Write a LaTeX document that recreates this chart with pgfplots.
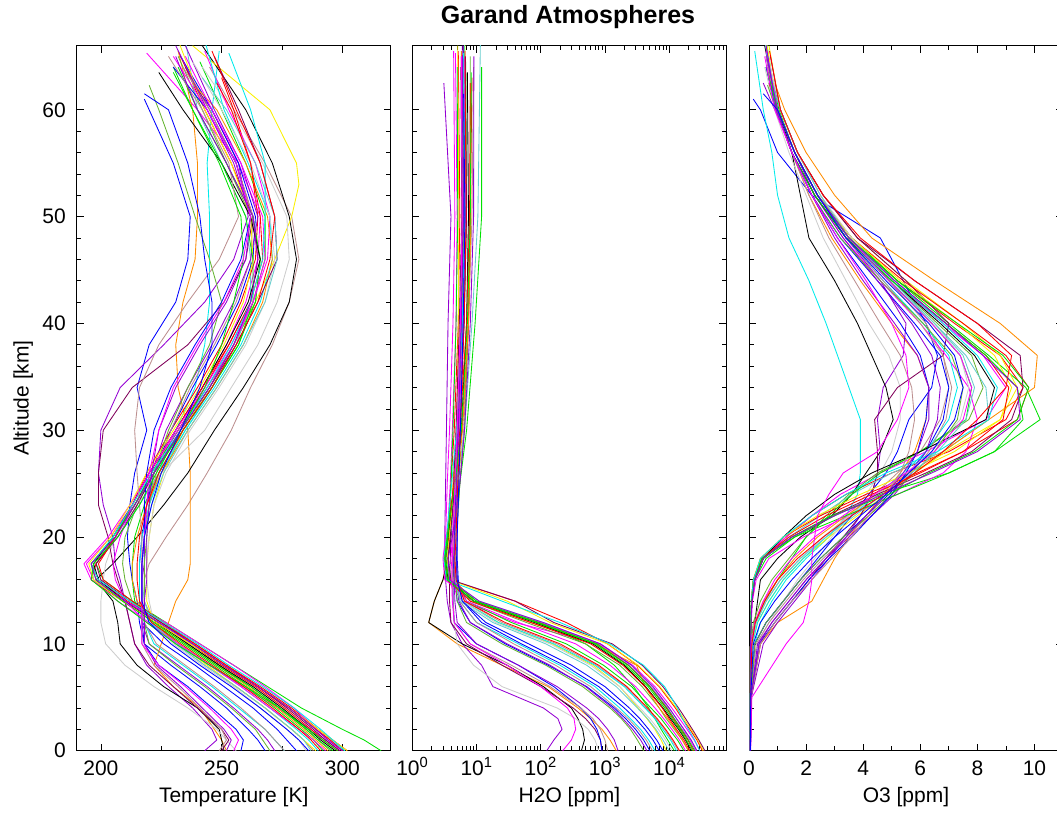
\documentclass[border=0pt]{standalone}
\usepackage{pgfplots}
\pgfplotsset{compat=1.18}
\usepackage{fontspec}
\setmainfont{Liberation Sans}
\definecolor{cR}{RGB}{255,0,0}
\definecolor{cG}{RGB}{0,225,0}
\definecolor{cB}{RGB}{0,0,255}
\definecolor{cM}{RGB}{255,0,255}
\definecolor{cC}{RGB}{0,235,235}
\definecolor{cRb}{RGB}{188,143,143}
\definecolor{cO}{RGB}{255,140,0}
\definecolor{cP}{RGB}{148,0,211}
\definecolor{cK}{RGB}{0,0,0}
\definecolor{cY}{RGB}{250,240,0}
\definecolor{cGy}{RGB}{205,205,205}
\definecolor{cMr}{RGB}{128,0,90}
\definecolor{cOl}{RGB}{102,180,50}
\definecolor{cT}{RGB}{102,205,205}
\newcommand{\lab}{\fontsize{21}{25}\selectfont}
\pgfplotsset{prof/.style={width=314pt,height=705pt,scale only axis,anchor=south west,
  ymin=0,ymax=66,ytick={0,10,20,30,40,50,60},minor y tick num=4,
  tick align=inside,major tick length=7pt,minor tick length=4.5pt,
  tick style={black,line width=0.7pt},axis line style={black,line width=0.9pt},
  tick label style={font=\lab},
  x tick label style={text height=15pt,text depth=0pt,yshift=-6pt},
  y tick label style={xshift=-7.4pt},
  /pgf/number format/assume math mode=true,
  every axis plot/.append style={line width=0.85pt,line join=round,mark=none}}}
\begin{document}
\begin{tikzpicture}[x=1pt,y=1pt]
\path[use as bounding box] (0,0) rectangle (1057,812);
% ---------------- Temperature ----------------
\begin{axis}[prof,at={(76.7pt,61.3pt)},xmin=190,xmax=320,xtick={200,250,300},minor x tick num=1]
\addplot[cR] coordinates{(302,0)(296,1)(290,2)(279,4)(266,6)(252,8)(239,10)(225,12)(211,14)(199,16)(196,17.5)(206,20)(214,23)(221,26)(232,30)(243,34)(253,38)(262,42)(265,46)(263,50)(254,55)(243,60)(232,65.5)};
\addplot[cG] coordinates{(316,0)(309,1)(300,2)(283,4)(269,6)(255,8)(241,10)(227,12)(213,14)(201,16)(198,17.5)(206,20)(214,23)(221,26)(232,30)(244,34)(255,38)(263,42)(268,46)(268,50)(260,55)(250,60)(241,64.5)};
\addplot[cB] coordinates{(268,0)(265,1)(261,2)(252,4)(241,6)(229,8)(218,10)(216,12)(215,14)(213,16)(212,17.5)(211,20)(212,23)(214,26)(219,30)(215,34)(220,38)(231,42)(236,46)(237,50)(230,55)(220,60)(218,61)};
\addplot[cM] coordinates{(299,0)(293,1)(287,2)(273,4)(259,6)(245,8)(232,10)(220,12)(207,14)(197,16)(194,17.5)(204,20)(213,23)(220,26)(231,30)(242,34)(252,38)(260,42)(265,46)(266,50)(257,55)(240,60)(219,65.3)};
\addplot[cC] coordinates{(276,0)(272,1)(268,2)(257,4)(246,6)(234,8)(222,10)(218,12)(217,14)(217,16)(217,17.5)(218,20)(220,23)(224,26)(231,30)(239,34)(243,38)(245,42)(245,46)(245,50)(244,55)(246,60)(249,65.5)};
\addplot[cRb] coordinates{(288,0)(284,1)(279,2)(268,4)(256,6)(243,8)(231,10)(222,12)(218,14)(218,16)(220,17.5)(227,20)(236,23)(244,26)(254,30)(262,34)(271,38)(278,42)(282,46)(279,50)(268,55)(255,60)(245,64)};
\addplot[cO] coordinates{(252,0)(250,1)(247,2)(241,4)(230,6)(222,8)(225,10)(228,12)(231,14)(236,16)(237,17.5)(237,20)(237,23)(237,26)(236,30)(232,34)(231,38)(234,42)(239,46)(240,50)(240,55)(238,60)(232,65.5)};
\addplot[cP] coordinates{(243,0)(248,1)(246,2)(238,4)(228,6)(219,8)(214,10)(212,12)(210,14)(208,16)(206,17.5)(205,20)(201,23)(199,26)(200,30)(208,34)(226,38)(243,42)(255,46)(261,50)(257,55)(246,60)(238,62.5)};
\addplot[cK] coordinates{(251,0)(250,1)(249,2)(240,4)(226,6)(215,8)(208,10)(207,12)(205,14)(198,16)(205,17.5)(215,20)(226,23)(236,26)(247,30)(259,34)(270,38)(278,42)(281,46)(278,50)(271,55)(260,60)(242,66)};
\addplot[cY] coordinates{(289,0)(284,1)(279,2)(268,4)(256,6)(244,8)(232,10)(222,12)(219,14)(219,16)(219,17.5)(220,20)(222,23)(226,26)(234,30)(245,34)(255,38)(264,42)(272,46)(279,50)(282,53)(281,55)(270,60)(238,66)};
\addplot[cGy] coordinates{(256,0)(252,1)(248,2)(236,4)(222,6)(210,8)(202,10)(200,12)(200,14)(201,16)(202,17.5)(206,20)(215,23)(225,26)(243,30)(254,34)(265,38)(273,42)(278,46)(277,50)(267,55)(254,60)(242,64)};
\addplot[cMr] coordinates{(250,0)(253,1)(250,2)(240,4)(230,6)(220,8)(214,10)(212,12)(210,14)(207,16)(205,17.5)(203,20)(199,23)(199,26)(201,30)(213,34)(236,38)(251,42)(260,46)(263,50)(256,55)(245,60)(235,64)};
\addplot[cOl] coordinates{(295,0)(290,1)(285,2)(274,4)(262,6)(249,8)(236,10)(223,12)(213,14)(210,16)(209,17.5)(210,20)(215,23)(222,26)(233,30)(245,34)(255,38)(264,42)(266,46)(262,50)(252,55)(242,60)(232,65)};
\addplot[cT] coordinates{(301,0)(295,1)(289,2)(278,4)(265,6)(251,8)(238,10)(224,12)(210,14)(197,16)(196,17.5)(207,20)(216,23)(224,26)(235,30)(246,34)(256,38)(262,42)(262,46)(260,50)(250,55)(240,60)(235,66.5)};
\addplot[cR] coordinates{(298,0)(292,1)(287,2)(276,4)(264,6)(250,8)(237,10)(223,12)(209,14)(196,16)(198,17.5)(206,20)(213,23)(219,26)(229,30)(240,34)(250,38)(258,42)(264,46)(265,50)(262,55)(255,60)(250,63)};
\addplot[cG] coordinates{(292,0)(288,1)(283,2)(272,4)(260,6)(247,8)(234,10)(221,12)(214,14)(213,16)(213,17.5)(214,20)(218,23)(224,26)(234,30)(246,34)(257,38)(264,42)(266,46)(263,50)(252,55)(240,60)(232,64)};
\addplot[cB] coordinates{(281,0)(277,1)(273,2)(263,4)(251,6)(239,8)(226,10)(217,12)(216,14)(216,16)(216,17.5)(217,20)(219,23)(222,26)(229,30)(238,34)(248,38)(257,42)(263,46)(264,50)(257,55)(246,60)(233,65)};
\addplot[cM] coordinates{(300,0)(294,1)(289,2)(280,4)(268,6)(255,8)(241,10)(227,12)(210,14)(196,16)(193,17.5)(203,20)(212,23)(220,26)(232,30)(244,34)(255,38)(263,42)(269,46)(270,50)(264,55)(253,60)(243,65.5)};
\addplot[cC] coordinates{(290,0)(286,1)(281,2)(270,4)(258,6)(245,8)(232,10)(220,12)(216,14)(216,16)(216,17.5)(217,20)(220,23)(225,26)(235,30)(247,34)(258,38)(266,42)(271,46)(270,50)(261,55)(251,60)(243,66.5)};
\addplot[cRb] coordinates{(276,0)(272,1)(268,2)(258,4)(247,6)(235,8)(223,10)(218,12)(217,14)(217,16)(217,17.5)(218,20)(220,23)(223,26)(229,30)(237,34)(247,38)(256,42)(262,46)(263,50)(256,55)(245,60)(234,64)};
\addplot[cO] coordinates{(294,0)(289,1)(284,2)(273,4)(261,6)(248,8)(235,10)(222,12)(215,14)(213,16)(213,17.5)(215,20)(219,23)(225,26)(236,30)(248,34)(259,38)(267,42)(271,46)(269,50)(260,55)(248,60)(238,62.5)};
\addplot[cP] coordinates{(272,0)(269,1)(265,2)(255,4)(244,6)(232,8)(220,10)(217,12)(217,14)(217,16)(218,17.5)(218,20)(219,23)(221,26)(227,30)(236,34)(246,38)(255,42)(262,46)(265,50)(258,55)(247,60)(235,66)};
\addplot[cK] coordinates{(297,0)(291,1)(286,2)(275,4)(263,6)(249,8)(236,10)(223,12)(210,14)(199,16)(197,17.5)(205,20)(213,23)(220,26)(231,30)(242,34)(252,38)(261,42)(266,46)(262,50)(250,55)(234,60)(224,63.5)};
\addplot[cY] coordinates{(302,0)(296,1)(290,2)(278,4)(265,6)(251,8)(237,10)(223,12)(209,14)(197,16)(195,17.5)(204,20)(212,23)(219,26)(230,30)(241,34)(251,38)(259,42)(263,46)(262,50)(254,55)(243,60)(232,66.5)};
\addplot[cGy] coordinates{(285,0)(282,1)(277,2)(266,4)(255,6)(242,8)(230,10)(222,12)(220,14)(219,16)(219,17.5)(220,20)(222,23)(227,26)(237,30)(249,34)(260,38)(268,42)(272,46)(270,50)(262,55)(250,60)(238,64.5)};
\addplot[cMr] coordinates{(299,0)(293,1)(288,2)(277,4)(265,6)(251,8)(238,10)(225,12)(212,14)(200,16)(198,17.5)(207,20)(215,23)(222,26)(233,30)(245,34)(256,38)(265,42)(273,46)(272,50)(266,55)(257,60)(247,65)};
\addplot[cOl] coordinates{(270,0)(267,1)(264,2)(254,4)(243,6)(231,8)(220,10)(218,12)(218,14)(218,16)(218,17.5)(219,20)(220,23)(222,26)(228,30)(236,34)(245,38)(250,42)(245,46)(239,50)(232,55)(224,60)(220,62.3)};
\addplot[cT] coordinates{(287,0)(284,1)(279,2)(268,4)(256,6)(243,8)(231,10)(221,12)(218,14)(217,16)(217,17.5)(218,20)(221,23)(226,26)(236,30)(248,34)(259,38)(268,42)(273,46)(272,50)(264,55)(252,60)(242,63)};
\addplot[cR] coordinates{(300,0)(295,1)(289,2)(278,4)(265,6)(252,8)(239,10)(226,12)(213,14)(201,16)(199,17.5)(206,20)(213,23)(220,26)(231,30)(242,34)(253,38)(262,42)(267,46)(266,50)(262,55)(254,60)(248,62.5)};
\addplot[cG] coordinates{(296,0)(290,1)(285,2)(274,4)(262,6)(248,8)(235,10)(222,12)(209,14)(198,16)(196,17.5)(205,20)(214,23)(222,26)(234,30)(246,34)(257,38)(263,42)(263,46)(260,50)(250,55)(238,60)(230,64)};
\addplot[cB] coordinates{(258,0)(259,1)(256,2)(246,4)(236,6)(224,8)(218,10)(217,12)(217,14)(217,16)(217,17.5)(218,20)(218,23)(219,26)(222,30)(229,34)(239,38)(250,42)(258,46)(262,50)(256,55)(244,60)(230,64)};
\addplot[cM] coordinates{(293,0)(288,1)(282,2)(270,4)(258,6)(245,8)(232,10)(219,12)(210,14)(206,16)(205,17.5)(208,20)(213,23)(220,26)(231,30)(243,34)(254,38)(263,42)(268,46)(267,50)(258,55)(246,60)(235,65)};
\addplot[cC] coordinates{(301,0)(296,1)(291,2)(280,4)(267,6)(253,8)(240,10)(226,12)(212,14)(199,16)(196,17.5)(205,20)(213,23)(221,26)(233,30)(244,34)(254,38)(262,42)(267,46)(268,50)(268,55)(262,60)(253,65.3)};
\addplot[cRb] coordinates{(249,0)(252,1)(250,2)(241,4)(232,6)(222,8)(217,10)(217,12)(217,14)(217,16)(217,17.5)(217,20)(216,23)(215,26)(214,30)(216,34)(224,38)(236,42)(249,46)(257,50)(253,55)(242,60)(228,65)};
\addplot[cP] coordinates{(252,0)(254,1)(251,2)(242,4)(233,6)(223,8)(218,10)(218,12)(218,14)(219,16)(219,17.5)(219,20)(220,23)(221,26)(224,30)(231,34)(241,38)(252,42)(260,46)(262,50)(255,55)(244,60)(231,66)};
\addplot[cG] coordinates{(298,0)(292,1)(286,2)(274,4)(260,6)(245,8)(231,10)(219,12)(207,14)(196,16)(197,17.5)(207,20)(216,23)(223,26)(233,30)(243,34)(250,38)(255,42)(259,46)(258,50)(249,55)(238,60)(230,63.5)};
\addplot[cM] coordinates{(255,0)(257,1)(254,2)(245,4)(235,6)(224,8)(217,10)(217,12)(217,14)(217,16)(217,17.5)(218,20)(219,23)(220,26)(224,30)(230,34)(240,38)(251,42)(259,46)(262,50)(256,55)(244,60)(230,65)};
\addplot[cR] coordinates{(291,0)(287,1)(282,2)(271,4)(259,6)(246,8)(233,10)(221,12)(216,14)(215,16)(215,17.5)(216,20)(219,23)(224,26)(234,30)(246,34)(256,38)(265,42)(270,46)(272,50)(266,55)(256,60)(246,65.5)};
\addplot[cP] coordinates{(300,0)(294,1)(289,2)(278,4)(265,6)(251,8)(238,10)(224,12)(210,14)(198,16)(196,17.5)(206,20)(214,23)(222,26)(233,30)(245,34)(255,38)(262,42)(265,46)(263,50)(252,55)(240,60)(231,65)};
\addplot[cB] coordinates{(286,0)(282,1)(277,2)(266,4)(254,6)(241,8)(229,10)(220,12)(217,14)(217,16)(217,17.5)(218,20)(221,23)(225,26)(233,30)(241,34)(246,38)(246,42)(243,46)(241,50)(236,55)(228,60)(218,61.5)};
\end{axis}
% ---------------- H2O ----------------
\begin{axis}[prof,at={(412.3pt,61.3pt)},xmode=log,xmin=1,xmax=77600,
  xtick={1,10,100,1000,10000},
  xticklabels={10\textsuperscript{0},10\textsuperscript{1},10\textsuperscript{2},10\textsuperscript{3},10\textsuperscript{4}},
  minor xtick={2,3,4,5,6,7,8,9,20,30,40,50,60,70,80,90,200,300,400,500,600,700,800,900,2000,3000,4000,5000,6000,7000,8000,9000,20000,30000,40000,50000,60000,70000},
  yticklabels={}]
\addplot[cR] coordinates{(33000,0)(27000,1)(21000,2)(16000,3)(12500,4)(7000,6)(3200,8)(1100,10)(250,12)(40,14)(3.8,16)(3.4,18)(3.7,20)(4,25)(4.5,30)(5.2,40)(5.5,50)(5.2,65.5)};
\addplot[cG] coordinates{(12000,0)(9500,1)(7500,2)(6000,3)(4800,4)(2800,6)(1400,8)(500,10)(90,12)(10,14)(4,16)(3.6,18)(3.9,20)(4.6,25)(5.3,30)(6.4,40)(7,50)(6.8,64.5)};
\addplot[cB] coordinates{(5000,0)(4000,1)(3000,2)(2100,3)(1400,4)(520,6)(130,8)(28,10)(8,12)(5,14)(4.6,16)(4.5,18)(4.6,20)(5,25)(5.3,30)(6,40)(6.4,50)(6.2,61)};
\addplot[cM] coordinates{(26000,0)(21000,1)(16000,2)(12000,3)(9500,4)(5200,6)(2400,8)(800,10)(40,12)(6,14)(3.5,16)(3.2,18)(3.5,20)(3.9,25)(4.2,30)(4.8,40)(5,50)(4.7,65.3)};
\addplot[cC] coordinates{(6000,0)(4800,1)(3600,2)(2500,3)(1700,4)(700,6)(200,8)(45,10)(10,12)(5.5,14)(5,16)(4.8,18)(4.8,20)(5,25)(5.4,30)(6,40)(6.5,50)(6.2,65.5)};
\addplot[cRb] coordinates{(14000,0)(11000,1)(8500,2)(6200,3)(4400,4)(2100,6)(750,8)(180,10)(25,12)(6.5,14)(5,16)(4.8,18)(4.9,20)(5.5,25)(6.3,30)(7.5,40)(8.5,50)(9,64)};
\addplot[cO] coordinates{(1500,0)(1200,1)(900,2)(600,3)(380,4)(130,6)(25,8)(5,10)(1.8,12)(2.2,14)(3,16)(3.5,18)(3.8,20)(4.3,25)(4.8,30)(5.5,40)(6,50)(5.8,65.5)};
\addplot[cP] coordinates{(124,0)(160,1)(215,2)(185,3)(110,4)(18,6)(12,8)(6,10)(4,12)(3.5,14)(3.3,16)(3.2,18)(3.2,20)(3.3,25)(3.4,30)(3.6,40)(4,50)(3.1,62.5)};
\addplot[cK] coordinates{(430,0)(480,1)(450,2)(380,3)(300,4)(110,6)(30,8)(6,10)(1.8,12)(2.2,14)(3,16)(3.6,18)(4,20)(4.5,25)(5,30)(5.8,40)(6.4,50)(6.2,66)};
\addplot[cY] coordinates{(9000,0)(7500,1)(6000,2)(4500,3)(3300,4)(1700,6)(650,8)(150,10)(22,12)(6,14)(4.6,16)(4.5,18)(4.7,20)(4.9,25)(5,30)(5.2,40)(5.3,50)(5.1,66)};
\addplot[cGy] coordinates{(800,0)(700,1)(550,2)(350,3)(180,4)(25,6)(9,8)(5,10)(4.5,12)(4.4,14)(4.3,16)(4.3,18)(4.4,20)(4.7,25)(5,30)(5.6,40)(6,50)(5.8,64)};
\addplot[cMr] coordinates{(900,0)(850,1)(700,2)(500,3)(320,4)(100,6)(25,8)(7,10)(4,12)(3.8,14)(3.8,16)(3.9,18)(4,20)(4.4,25)(4.8,30)(5.4,40)(5.9,50)(5.7,64)};
\addplot[cOl] coordinates{(20000,0)(16000,1)(12000,2)(9000,3)(7000,4)(3800,6)(1700,8)(500,10)(60,12)(8,14)(4.5,16)(4.2,18)(4.4,20)(5.5,25)(6.5,30)(7.5,40)(8,50)(8,65)};
\addplot[cT] coordinates{(27000,0)(22000,1)(17000,2)(13000,3)(10000,4)(5500,6)(2600,8)(850,10)(110,12)(11,14)(3.8,16)(3.4,18)(3.9,20)(5,25)(6.5,30)(8.5,40)(10.5,50)(11.5,66.5)};
\addplot[cR] coordinates{(24000,0)(19500,1)(15000,2)(11500,3)(9000,4)(5000,6)(2300,8)(750,10)(90,12)(9,14)(3.4,16)(3.1,18)(3.4,20)(4.5,25)(6,30)(7.5,40)(8,50)(8.5,63)};
\addplot[cG] coordinates{(17000,0)(13500,1)(10000,2)(7500,3)(5200,4)(2600,6)(950,8)(250,10)(35,12)(7,14)(4.8,16)(4.6,18)(4.8,20)(5.5,25)(7,30)(9.5,40)(12,50)(12,64)};
\addplot[cB] coordinates{(7000,0)(5600,1)(4200,2)(3000,3)(2000,4)(800,6)(230,8)(50,10)(12,12)(6,14)(5.2,16)(5,18)(5,20)(5.2,25)(5.5,30)(6.1,40)(6.6,50)(6.3,65)};
\addplot[cM] coordinates{(30000,0)(24500,1)(19000,2)(14500,3)(11000,4)(6000,6)(2700,8)(850,10)(100,12)(9,14)(3.2,16)(3,18)(3.3,20)(3.5,25)(3.8,30)(4.3,40)(4.6,50)(4.4,65.5)};
\addplot[cC] coordinates{(13000,0)(10500,1)(8000,2)(6000,3)(4200,4)(2000,6)(700,8)(160,10)(22,12)(6,14)(4.8,16)(4.7,18)(4.8,20)(5.1,25)(5.5,30)(6.3,40)(6.8,50)(6.5,66.5)};
\addplot[cRb] coordinates{(5500,0)(4400,1)(3300,2)(2300,3)(1500,4)(600,6)(170,8)(38,10)(10,12)(5.5,14)(5,16)(4.9,18)(4.9,20)(5.1,25)(5.4,30)(6,40)(6.5,50)(6.3,64)};
\addplot[cO] coordinates{(20000,0)(16000,1)(12500,2)(9500,3)(7000,4)(4200,6)(3100,8)(700,10)(70,12)(9,14)(4.5,16)(4.3,18)(4.5,20)(5.2,25)(6,30)(7.5,40)(8.2,50)(8,62.5)};
\addplot[cP] coordinates{(4500,0)(3600,1)(2700,2)(1900,3)(1300,4)(500,6)(140,8)(30,10)(8,12)(5.3,14)(4.9,16)(4.8,18)(4.8,20)(5,25)(5.3,30)(5.9,40)(6.4,50)(6.2,66)};
\addplot[cK] coordinates{(22000,0)(18000,1)(14000,2)(10500,3)(8000,4)(4300,6)(2000,8)(650,10)(80,12)(9,14)(3.6,16)(3.3,18)(3.6,20)(4.5,25)(5.8,30)(7,40)(7.5,50)(7.2,63.5)};
\addplot[cY] coordinates{(34000,0)(28000,1)(22000,2)(17000,3)(13000,4)(7200,6)(3300,8)(1100,10)(140,12)(30,14)(3.9,16)(3.5,18)(3.8,20)(4.5,25)(5.2,30)(6.3,40)(6.9,50)(6.6,66.5)};
\addplot[cGy] coordinates{(11000,0)(8800,1)(6800,2)(5000,3)(3500,4)(1700,6)(600,8)(140,10)(20,12)(6,14)(4.8,16)(4.7,18)(4.8,20)(5.1,25)(5.5,30)(6.3,40)(6.8,50)(6.5,64.5)};
\addplot[cMr] coordinates{(36000,0)(29000,1)(23000,2)(18000,3)(14000,4)(8000,6)(3800,8)(1300,10)(160,12)(40,14)(4,16)(3.6,18)(3.9,20)(4.6,25)(5.3,30)(6.4,40)(7,50)(6.7,65)};
\addplot[cOl] coordinates{(4000,0)(3200,1)(2500,2)(1800,3)(1200,4)(450,6)(120,8)(25,10)(7,12)(5,14)(4.7,16)(4.6,18)(4.7,20)(5,25)(5.3,30)(5.9,40)(6.4,50)(6.2,62.3)};
\addplot[cT] coordinates{(10000,0)(8000,1)(6200,2)(4600,3)(3200,4)(1500,6)(520,8)(120,10)(18,12)(5.5,14)(4.7,16)(4.6,18)(4.7,20)(5,25)(5.4,30)(6.2,40)(6.7,50)(6.4,63)};
\addplot[cR] coordinates{(21000,0)(17000,1)(13000,2)(10000,3)(7800,4)(4200,6)(1900,8)(600,10)(70,12)(8,14)(3.5,16)(3.2,18)(3.5,20)(4.5,25)(5.5,30)(7,40)(7.8,50)(8,62.5)};
\addplot[cG] coordinates{(25000,0)(20000,1)(15500,2)(12000,3)(9200,4)(5000,6)(2300,8)(750,10)(95,12)(10,14)(3.7,16)(3.3,18)(3.6,20)(4,25)(4.3,30)(4.8,40)(5.1,50)(5,64)};
\addplot[cB] coordinates{(900,0)(850,1)(750,2)(600,3)(420,4)(160,6)(45,8)(10,10)(4.5,12)(4.3,14)(4.3,16)(4.4,18)(4.5,20)(4.8,25)(5.1,30)(5.7,40)(6.2,50)(6,64)};
\addplot[cM] coordinates{(18000,0)(14500,1)(11000,2)(8200,3)(6000,4)(3000,6)(1200,8)(350,10)(45,12)(7,14)(4.3,16)(4,18)(4.2,20)(4.7,25)(5.3,30)(6.2,40)(6.7,50)(6.4,65)};
\addplot[cC] coordinates{(30000,0)(25000,1)(20000,2)(16000,3)(13500,4)(8500,6)(4000,8)(1200,10)(200,12)(25,14)(3.4,16)(3.1,18)(3.4,20)(4.1,25)(4.9,30)(6,40)(6.6,50)(6.3,65.3)};
\addplot[cRb] coordinates{(1100,0)(1000,1)(850,2)(650,3)(420,4)(140,6)(35,8)(8,10)(4.5,12)(4.3,14)(4.2,16)(4.3,18)(4.4,20)(4.7,25)(5,30)(5.6,40)(6,50)(5.8,65)};
\addplot[cP] coordinates{(1600,0)(1400,1)(1100,2)(800,3)(520,4)(180,6)(45,8)(10,10)(5,12)(4.6,14)(4.5,16)(4.5,18)(4.6,20)(4.9,25)(5.2,30)(5.8,40)(6.2,50)(6,66)};
\addplot[cG] coordinates{(23000,0)(18500,1)(14500,2)(11000,3)(8500,4)(4700,6)(2100,8)(700,10)(85,12)(9,14)(3.5,16)(3.2,18)(3.5,20)(4.6,25)(5.8,30)(7.2,40)(8,50)(8.3,63.5)};
\addplot[cM] coordinates{(220,0)(300,1)(350,2)(330,3)(260,4)(100,6)(30,8)(8,10)(4.5,12)(4.2,14)(4.1,16)(4.2,18)(4.3,20)(4.6,25)(5,30)(5.6,40)(6,50)(5.8,65)};
\addplot[cR] coordinates{(14500,0)(11500,1)(8800,2)(6500,3)(4600,4)(2200,6)(800,8)(200,10)(28,12)(6.5,14)(4.8,16)(4.6,18)(4.8,20)(5.1,25)(5.6,30)(6.4,40)(6.9,50)(6.6,65.5)};
\addplot[cP] coordinates{(27000,0)(22000,1)(17000,2)(13000,3)(10000,4)(5600,6)(2600,8)(850,10)(110,12)(11,14)(3.8,16)(3.6,18)(4.2,20)(5.5,25)(6.5,30)(8,40)(9,50)(9.1,65)};
\addplot[cB] coordinates{(8000,0)(6400,1)(4800,2)(3500,3)(2400,4)(1000,6)(300,8)(65,10)(14,12)(6,14)(5,16)(4.9,18)(5,20)(5.3,25)(5.6,30)(6.2,40)(6.6,50)(6.3,61.5)};
\end{axis}
% ---------------- O3 ----------------
\begin{axis}[prof,at={(749pt,61.3pt)},xmin=0,xmax=11,xtick={0,2,4,6,8,10},minor x tick num=1,yticklabels={}]
\addplot[cR] coordinates{(.03,0)(.04,5)(.05,10)(.07,12)(.1,14)(.18,16)(.5,18)(1.3,20)(2.2,22)(3.4,24)(5.0,26)(7.0,28)(9.0,31)(9.6,34)(8.8,37)(7.2,40)(5.2,44)(3.5,48)(2.4,52)(1.6,56)(1.0,60)(.62,65.5)};
\addplot[cG] coordinates{(.04,0)(.05,5)(.06,10)(.07,12)(.1,14)(.2,16)(.6,18)(1.6,20)(3.0,22)(4.6,24)(7.0,26)(8.6,28)(10.2,31)(9.7,34)(8.4,37)(7,40)(5.2,44)(3.6,48)(2.4,52)(1.6,56)(1.05,60)(.65,64.5)};
\addplot[cB] coordinates{(.04,0)(.06,5)(.2,10)(.6,12)(1.2,14)(1.8,16)(2.4,18)(3.0,20)(3.6,22)(4.2,24)(4.8,26)(5.2,28)(5.6,31)(6.4,34)(6.6,37)(6.2,40)(5.4,44)(4.6,48)(2.2,52)(1.0,56)(.4,60)(.15,61)};
\addplot[cM] coordinates{(.03,0)(.04,5)(.05,10)(.06,12)(.09,14)(.15,16)(.45,18)(1.3,20)(2.2,22)(3.2,24)(4.6,26)(6.2,28)(8.3,31)(9.0,34)(8.2,37)(6.8,40)(5.0,44)(3.4,48)(2.3,52)(1.5,56)(.95,60)(.6,65.3)};
\addplot[cC] coordinates{(.03,0)(.04,5)(.2,10)(.4,12)(.8,14)(1.3,16)(2.0,18)(2.8,20)(3.4,22)(3.8,24)(3.9,26)(3.9,28)(3.9,31)(3.5,34)(3.1,37)(2.7,40)(2.1,44)(1.4,48)(1.0,52)(.8,56)(.5,60)(.2,65.5)};
\addplot[cRb] coordinates{(.05,0)(.06,5)(.1,10)(.25,12)(.6,14)(1.1,16)(1.8,18)(2.6,20)(3.5,22)(4.4,24)(5.2,26)(6.0,28)(6.7,31)(7.0,34)(6.8,37)(6.2,40)(4.9,44)(3.5,48)(2.5,52)(1.7,56)(1.1,60)(.7,64)};
\addplot[cO] coordinates{(.04,0)(.06,5)(.4,10)(1.0,12)(2.2,14)(2.6,16)(3.0,18)(3.5,20)(4.1,22)(4.7,24)(5.3,26)(5.8,28)(6.2,31)(6.3,34)(5.9,37)(5.0,40)(3.9,44)(2.9,48)(2.1,52)(1.5,56)(.95,60)(.6,65.5)};
\addplot[cP] coordinates{(.05,0)(.08,5)(.5,10)(1.0,12)(1.6,14)(2.2,16)(2.8,18)(3.4,20)(3.9,22)(4.3,24)(4.5,26)(4.6,28)(4.5,31)(4.7,34)(5.4,37)(5.5,40)(4.6,44)(3.4,48)(2.4,52)(1.6,56)(.9,60)(.5,62.5)};
\addplot[cK] coordinates{(.04,0)(.05,5)(.1,10)(.2,12)(.3,14)(.4,16)(1.0,18)(1.8,20)(2.9,22)(3.6,24)(4.1,26)(4.6,28)(5.05,31)(4.8,34)(4.3,37)(3.8,40)(3.0,44)(2.1,48)(1.8,52)(1.5,56)(1.0,60)(.55,66)};
\addplot[cY] coordinates{(.05,0)(.06,5)(.12,10)(.3,12)(.7,14)(1.2,16)(1.9,18)(2.8,20)(3.8,22)(4.8,24)(5.8,26)(6.9,28)(8.8,31)(9.4,34)(8.8,37)(7.5,40)(5.5,44)(3.8,48)(2.6,52)(1.7,56)(1.1,60)(.7,66)};
\addplot[cGy] coordinates{(.05,0)(.07,5)(.3,10)(.7,12)(1.2,14)(1.7,16)(2.3,18)(2.9,20)(3.5,22)(4.1,24)(4.6,26)(5.0,28)(5.3,31)(5.3,34)(4.9,37)(4.2,40)(3.4,44)(2.6,48)(2.0,52)(1.4,56)(.9,60)(.55,64)};
\addplot[cMr] coordinates{(.05,0)(.08,5)(.4,10)(.9,12)(1.5,14)(2.1,16)(2.7,18)(3.3,20)(3.9,22)(4.3,24)(4.5,26)(4.5,28)(4.4,31)(5.2,34)(6.8,37)(7.0,40)(5.5,44)(3.8,48)(2.6,52)(1.7,56)(1.1,60)(.65,64)};
\addplot[cOl] coordinates{(.04,0)(.05,5)(.08,10)(.15,12)(.4,14)(.8,16)(1.4,18)(2.0,20)(2.7,22)(3.5,24)(4.5,26)(6.0,28)(7.7,31)(8.2,34)(7.8,37)(6.6,40)(5.0,44)(3.5,48)(2.4,52)(1.6,56)(1.0,60)(.65,65)};
\addplot[cT] coordinates{(.03,0)(.04,5)(.05,10)(.07,12)(.1,14)(.2,16)(.5,18)(1.4,20)(2.5,22)(3.6,24)(5.0,26)(6.8,28)(8.4,31)(8.3,34)(7.6,37)(6.5,40)(4.9,44)(3.4,48)(2.3,52)(1.5,56)(.95,60)(.55,66.5)};
\addplot[cR] coordinates{(.03,0)(.04,5)(.05,10)(.06,12)(.08,14)(.15,16)(.4,18)(1.2,20)(2.5,22)(4.1,24)(5.9,26)(7.5,28)(9.4,31)(9.8,34)(9.0,37)(7.5,40)(5.4,44)(3.6,48)(2.4,52)(1.6,56)(1.0,60)(.7,63)};
\addplot[cG] coordinates{(.05,0)(.06,5)(.1,10)(.22,12)(.55,14)(1.0,16)(1.5,18)(2.0,20)(2.8,22)(3.6,24)(4.6,26)(6.0,28)(7.6,31)(7.8,34)(7.4,37)(6.4,40)(4.9,44)(3.5,48)(2.4,52)(1.6,56)(1.0,60)(.68,64)};
\addplot[cB] coordinates{(.05,0)(.07,5)(.2,10)(.6,12)(1.2,14)(1.8,16)(2.5,18)(3.3,20)(4.1,22)(4.9,24)(5.6,26)(6.2,28)(6.8,31)(7.0,34)(6.7,37)(5.8,40)(4.5,44)(3.2,48)(2.2,52)(1.5,56)(.95,60)(.6,65)};
\addplot[cM] coordinates{(.03,0)(.04,5)(.06,10)(.08,12)(.12,14)(.25,16)(.7,18)(1.9,20)(3.5,22)(5.2,24)(6.8,26)(7.6,28)(8.0,31)(7.7,34)(6.9,37)(6.0,40)(4.6,44)(3.3,48)(2.3,52)(1.5,56)(.95,60)(.6,65.5)};
\addplot[cC] coordinates{(.05,0)(.06,5)(.12,10)(.3,12)(.7,14)(1.2,16)(1.9,18)(2.7,20)(3.6,22)(4.5,24)(5.4,26)(6.2,28)(7.0,31)(7.3,34)(7.0,37)(6.1,40)(4.7,44)(3.4,48)(2.4,52)(1.6,56)(1.0,60)(.6,66.5)};
\addplot[cRb] coordinates{(.05,0)(.07,5)(.25,10)(.7,12)(1.3,14)(1.9,16)(2.6,18)(3.4,20)(4.2,22)(5.0,24)(5.7,26)(6.3,28)(6.9,31)(7.1,34)(6.8,37)(6.0,40)(4.7,44)(3.4,48)(2.4,52)(1.6,56)(1.0,60)(.65,64)};
\addplot[cO] coordinates{(.05,0)(.06,5)(.1,10)(.2,12)(.5,14)(1.0,16)(1.6,18)(2.4,20)(3.4,22)(4.5,24)(5.6,26)(6.8,28)(8.4,31)(10.0,34)(10.1,37)(8.8,40)(6.5,44)(4.3,48)(3.0,52)(2.0,56)(1.25,60)(.9,62.5)};
\addplot[cP] coordinates{(.05,0)(.07,5)(.3,10)(.8,12)(1.4,14)(2.0,16)(2.7,18)(3.5,20)(4.3,22)(5.1,24)(5.7,26)(6.2,28)(6.6,31)(6.7,34)(6.4,37)(5.7,40)(4.5,44)(3.3,48)(2.3,52)(1.6,56)(1.0,60)(.6,66)};
\addplot[cK] coordinates{(.03,0)(.04,5)(.05,10)(.06,12)(.09,14)(.2,16)(.5,18)(1.2,20)(2.0,22)(3.0,24)(4.3,26)(6.0,28)(8.3,31)(8.6,34)(7.9,37)(6.7,40)(5,44)(3.4,48)(2.3,52)(1.5,56)(1,60)(.7,63.5)};
\addplot[cY] coordinates{(.03,0)(.04,5)(.05,10)(.06,12)(.08,14)(.15,16)(.4,18)(1.2,20)(2.4,22)(3.9,24)(5.6,26)(7.2,28)(8.8,31)(9.2,34)(8.6,37)(7.3,40)(5.3,44)(3.6,48)(2.4,52)(1.6,56)(1.0,60)(.6,66.5)};
\addplot[cGy] coordinates{(.05,0)(.06,5)(.1,10)(.25,12)(.6,14)(1.1,16)(1.8,18)(2.6,20)(3.5,22)(4.5,24)(5.5,26)(6.4,28)(7.4,31)(7.7,34)(7.4,37)(6.5,40)(5.0,44)(3.6,48)(2.5,52)(1.7,56)(1.1,60)(.7,64.5)};
\addplot[cMr] coordinates{(.03,0)(.04,5)(.05,10)(.07,12)(.1,14)(.2,16)(.5,18)(1.5,20)(2.9,22)(4.5,24)(6.2,26)(7.8,28)(9.2,31)(9.6,34)(9.5,37)(8.0,40)(5.8,44)(3.8,48)(2.6,52)(1.7,56)(1.1,60)(.75,65)};
\addplot[cOl] coordinates{(.05,0)(.07,5)(.2,10)(.6,12)(1.2,14)(1.8,16)(2.5,18)(3.3,20)(4.2,22)(5.0,24)(5.8,26)(6.5,28)(7.3,31)(7.5,34)(7.1,37)(6.1,40)(4.6,44)(3.2,48)(2.2,52)(1.5,56)(.95,60)(.65,62.3)};
\addplot[cT] coordinates{(.05,0)(.06,5)(.1,10)(.25,12)(.6,14)(1.1,16)(1.8,18)(2.7,20)(3.7,22)(4.7,24)(5.7,26)(6.6,28)(7.6,31)(7.9,34)(7.5,37)(6.5,40)(5.0,44)(3.5,48)(2.5,52)(1.7,56)(1.1,60)(.75,63)};
\addplot[cR] coordinates{(.03,0)(.04,5)(.05,10)(.06,12)(.09,14)(.18,16)(.45,18)(1.4,20)(2.7,22)(4.3,24)(6.0,26)(7.5,28)(8.9,31)(9.1,34)(8.3,37)(6.9,40)(5.1,44)(3.5,48)(2.4,52)(1.6,56)(1.0,60)(.7,62.5)};
\addplot[cG] coordinates{(.03,0)(.04,5)(.05,10)(.06,12)(.08,14)(.15,16)(.45,18)(1.6,20)(3.4,22)(5.2,24)(7.0,26)(8.6,28)(9.6,31)(9.4,34)(8.3,37)(6.9,40)(5.0,44)(3.4,48)(2.3,52)(1.5,56)(.95,60)(.6,64)};
\addplot[cB] coordinates{(.05,0)(.08,5)(.35,10)(.9,12)(1.5,14)(2.1,16)(2.8,18)(3.6,20)(4.3,22)(5.0,24)(5.5,26)(5.9,28)(6.2,31)(6.3,34)(6.0,37)(5.3,40)(4.2,44)(3.1,48)(2.2,52)(1.5,56)(.95,60)(.6,64)};
\addplot[cM] coordinates{(.04,0)(.05,5)(.09,10)(.2,12)(.5,14)(.9,16)(1.5,18)(2.3,20)(3.3,22)(4.4,24)(5.5,26)(6.5,28)(7.5,31)(7.8,34)(7.4,37)(6.4,40)(4.9,44)(3.5,48)(2.4,52)(1.6,56)(1.0,60)(.65,65)};
\addplot[cC] coordinates{(.03,0)(.04,5)(.05,10)(.06,12)(.08,14)(.16,16)(.4,18)(1.2,20)(2.2,22)(3.4,24)(4.8,26)(6.6,28)(8.4,31)(8.7,34)(8.0,37)(6.8,40)(5.1,44)(3.5,48)(2.4,52)(1.6,56)(1.0,60)(.62,65.3)};
\addplot[cRb] coordinates{(.05,0)(.08,5)(.4,10)(.9,12)(1.5,14)(2.2,16)(2.9,18)(3.6,20)(4.2,22)(4.8,24)(5.3,26)(5.6,28)(5.8,31)(5.7,34)(5.3,37)(4.6,40)(3.7,44)(2.8,48)(2.1,52)(1.5,56)(.95,60)(.6,65)};
\addplot[cP] coordinates{(.05,0)(.07,5)(.35,10)(.8,12)(1.4,14)(2.0,16)(2.7,18)(3.4,20)(4.1,22)(4.8,24)(5.4,26)(5.9,28)(6.3,31)(6.3,34)(5.9,37)(5.1,40)(4.0,44)(3.0,48)(2.2,52)(1.5,56)(.95,60)(.6,66)};
\addplot[cG] coordinates{(.03,0)(.04,5)(.05,10)(.06,12)(.09,14)(.2,16)(.5,18)(1.5,20)(2.9,22)(4.9,24)(6.3,26)(7.9,28)(9.4,31)(9.8,34)(8.9,37)(7.3,40)(5.2,44)(3.5,48)(2.4,52)(1.6,56)(1.0,60)(.65,63.5)};
\addplot[cM] coordinates{(.06,0)(.1,5)(1.3,10)(1.9,12)(2.1,14)(2.2,16)(2.2,18)(2.3,20)(2.4,22)(2.8,24)(3.3,26)(4.5,28)(5.2,31)(5.6,34)(5.5,37)(5.0,40)(4.1,44)(3.1,48)(2.2,52)(1.5,56)(.9,60)(.55,65)};
\addplot[cR] coordinates{(.05,0)(.06,5)(.1,10)(.22,12)(.55,14)(1.0,16)(1.7,18)(2.6,20)(3.6,22)(4.7,24)(5.8,26)(6.8,28)(8.0,31)(9.0,34)(9.2,37)(8.0,40)(5.8,44)(3.9,48)(2.6,52)(1.7,56)(1.1,60)(.72,65.5)};
\addplot[cP] coordinates{(.03,0)(.04,5)(.05,10)(.07,12)(.1,14)(.2,16)(.5,18)(1.5,20)(3.0,22)(4.7,24)(6.4,26)(8.0,28)(9.5,31)(9.4,34)(8.2,37)(6.9,40)(5.1,44)(3.5,48)(2.4,52)(1.6,56)(1.0,60)(.62,65)};
\addplot[cB] coordinates{(.05,0)(.06,5)(.15,10)(.4,12)(.9,14)(1.5,16)(2.2,18)(3.0,20)(3.9,22)(4.8,24)(5.6,26)(6.4,28)(7.2,31)(7.5,34)(7.2,37)(6.3,40)(4.8,44)(3.4,48)(2.4,52)(1.6,56)(1.0,60)(.5,61.5)};
\end{axis}
\node[anchor=base,font=\bfseries\fontsize{25}{30}\selectfont] at (568,788.7) {Garand Atmospheres};
\node[anchor=base,font=\lab] at (233.7,9.3) {Temperature [K]};
\node[anchor=base,font=\lab] at (569.5,9.3) {H2O [ppm]};
\node[anchor=base,font=\lab] at (906,9.3) {O3 [ppm]};
\node[anchor=base,rotate=90,font=\lab] at (28.5,414) {Altitude [km]};
\end{tikzpicture}
\end{document}
